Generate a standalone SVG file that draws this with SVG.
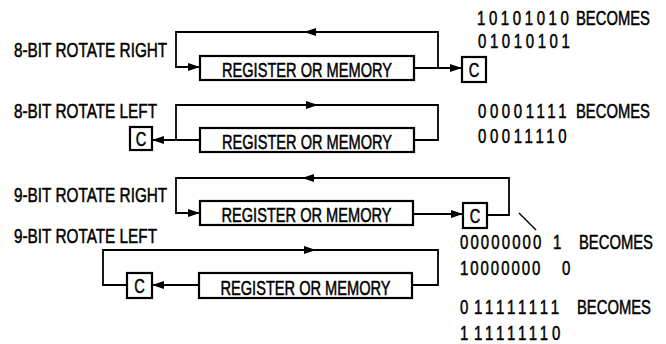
<svg xmlns="http://www.w3.org/2000/svg" width="666" height="344" viewBox="0 0 666 344">
<defs>
<marker id="ah" viewBox="0 0 12 8" refX="12" refY="4" markerWidth="12" markerHeight="8" markerUnits="userSpaceOnUse" orient="auto">
<polygon points="0,0 12,4 0,8" fill="#000"/>
</marker>
<style>
.box{fill:#fff;stroke:#000;stroke-width:2.2}
.ln{fill:none;stroke:#000;stroke-width:1.8}
text{font-family:"Liberation Sans",Arial,sans-serif;fill:#000;stroke:#000;stroke-width:0.5}
.t{font-size:21px}
.r{font-size:20px;text-anchor:middle}
.c{font-size:20px;text-anchor:middle}
.n{font-size:20px}
.w{font-size:20px}
</style>
</defs>
<rect width="666" height="344" fill="#fff"/>

<g id="labels">
<text class="t" transform="translate(14,57) scale(0.73,1)">8-BIT ROTATE RIGHT</text>
<text class="t" transform="translate(14,118) scale(0.73,1)">8-BIT ROTATE LEFT</text>
<text class="t" transform="translate(14,202) scale(0.73,1)">9-BIT ROTATE RIGHT</text>
<text class="t" transform="translate(14,243) scale(0.73,1)">9-BIT ROTATE LEFT</text>
</g>

<g id="connectors">
<!-- row 1 -->
<path class="ln" d="M414,68 H462" marker-end="url(#ah)"/>
<path class="ln" d="M438,68 V32 H176 V67 H200" marker-end="url(#ah)"/>
<path class="ln" d="M322,32 H304" marker-end="url(#ah)"/>
<!-- row 2 -->
<path class="ln" d="M200,140 H152" marker-end="url(#ah)"/>
<path class="ln" d="M414,140 H438 V105 H176 V140"/>
<path class="ln" d="M300,105 H318" marker-end="url(#ah)"/>
<!-- row 3 -->
<path class="ln" d="M413,214 H463" marker-end="url(#ah)"/>
<path class="ln" d="M487,215 H509 V178 H176 V213 H200" marker-end="url(#ah)"/>
<path class="ln" d="M320,178 H302" marker-end="url(#ah)"/>
<line x1="519" y1="213" x2="536" y2="230" stroke="#000" stroke-width="1.4"/>
<!-- row 4 -->
<path class="ln" d="M199,285 H152" marker-end="url(#ah)"/>
<path class="ln" d="M127,285 H103 V250 H438 V285 H412"/>
<path class="ln" d="M298,250 H316" marker-end="url(#ah)"/>
</g>

<g id="reg1"><rect class="box" x="200" y="56" width="214" height="24"/><text class="r" transform="translate(307,77) scale(0.73,1)">REGISTER OR MEMORY</text></g>
<g id="c1"><rect class="box" x="462" y="57" width="24" height="25"/><text class="c" transform="translate(474,77) scale(0.73,1)">C</text></g>

<g id="reg2"><rect class="box" x="200" y="128" width="214" height="24"/><text class="r" transform="translate(307,149) scale(0.73,1)">REGISTER OR MEMORY</text></g>
<g id="c2"><rect class="box" x="130" y="127" width="22" height="23"/><text class="c" transform="translate(141,146) scale(0.73,1)">C</text></g>

<g id="reg3"><rect class="box" x="200" y="201" width="213" height="24"/><text class="r" transform="translate(306.5,222) scale(0.73,1)">REGISTER OR MEMORY</text></g>
<g id="c3"><rect class="box" x="463" y="203" width="24" height="25"/><text class="c" transform="translate(475,223) scale(0.73,1)">C</text></g>

<g id="reg4"><rect class="box" x="199" y="273" width="213" height="25"/><text class="r" transform="translate(305.5,295) scale(0.73,1)">REGISTER OR MEMORY</text></g>
<g id="c4"><rect class="box" x="127" y="273" width="25" height="25"/><text class="c" transform="translate(139.5,293) scale(0.73,1)">C</text></g>

<g id="examples">
<text class="n" transform="translate(477,25) scale(0.75,1)" letter-spacing="4.8">10101010</text>
<text class="w" transform="translate(576,25) scale(0.74,1)">BECOMES</text>
<text class="n" transform="translate(478,48) scale(0.75,1)" letter-spacing="4.8">01010101</text>

<text class="n" transform="translate(478,118) scale(0.75,1)" letter-spacing="4.8">00001111</text>
<text class="w" transform="translate(576,118) scale(0.74,1)">BECOMES</text>
<text class="n" transform="translate(478,143) scale(0.75,1)" letter-spacing="4.8">00011110</text>

<text class="n" transform="translate(460,249) scale(0.75,1)" letter-spacing="2.8">00000000</text>
<text class="n" transform="translate(553,249) scale(0.75,1)">1</text>
<text class="w" transform="translate(579,249) scale(0.74,1)">BECOMES</text>
<text class="n" transform="translate(460,275) scale(0.75,1)" letter-spacing="2.6">10000000</text>
<text class="n" transform="translate(562,275) scale(0.75,1)">0</text>

<text class="n" transform="translate(460,314) scale(0.75,1)">0</text>
<text class="n" transform="translate(474,314) scale(0.75,1)" letter-spacing="5.0">11111111</text>
<text class="w" transform="translate(577,314) scale(0.74,1)">BECOMES</text>
<text class="n" transform="translate(460,340) scale(0.75,1)">1</text>
<text class="n" transform="translate(474,340) scale(0.75,1)" letter-spacing="5.0">11111110</text>
</g>
</svg>
